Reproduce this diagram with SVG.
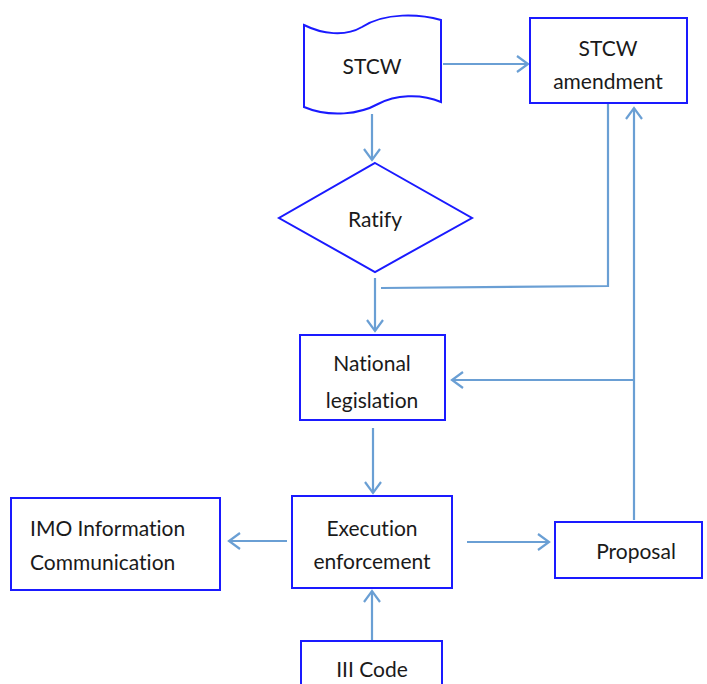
<svg xmlns="http://www.w3.org/2000/svg" width="707" height="684" viewBox="0 0 707 684">
<style>
.box{fill:#fff;stroke:#1a1aff;stroke-width:2}
.c{fill:none;stroke:#6a9fd4;stroke-width:2.2}
text{font-family:Lato,"Liberation Sans",sans-serif;font-size:21px;fill:#1a1a1a;text-anchor:middle;dominant-baseline:central;font-variant-ligatures:none}
</style>
<defs>
<marker id="a" markerUnits="userSpaceOnUse" markerWidth="14" markerHeight="20" refX="12" refY="9" orient="auto">
<path d="M1,1 L12,9 L1,17" fill="none" stroke="#6a9fd4" stroke-width="2.2"/>
</marker>
</defs>
<rect width="707" height="684" fill="#fff"/>
<g id="connectors">
<path class="c" d="M443,64 H528" marker-end="url(#a)"/>
<path class="c" d="M372,114 V160" marker-end="url(#a)"/>
<path class="c" d="M375,278 V331" marker-end="url(#a)"/>
<path class="c" d="M608,104 V286 L381,288"/>
<path class="c" d="M634,520 V108" marker-end="url(#a)"/>
<path class="c" d="M634,380 H452" marker-end="url(#a)"/>
<path class="c" d="M373,428 V493" marker-end="url(#a)"/>
<path class="c" d="M287,541 H229" marker-end="url(#a)"/>
<path class="c" d="M467,542 H549" marker-end="url(#a)"/>
<path class="c" d="M372,641 V591" marker-end="url(#a)"/>
</g>
<g id="stcw">
<path class="box" d="M304,25 C322,34 345,37 362,27 C385,12 420,14 441,20 V102 C420,93 395,95 378,104 C360,114 330,118 304,107 Z"/>
<text x="372" y="65">STCW</text>
</g>
<g id="amendment">
<rect class="box" x="530" y="18" width="157" height="85"/>
<text x="608" y="47">STCW</text>
<text x="608" y="80">amendment</text>
</g>
<g id="ratify">
<path class="box" d="M375,163 L472,218 L375,272 L279,218 Z"/>
<text x="375" y="218">Ratify</text>
</g>
<g id="national">
<rect class="box" x="300" y="335" width="145" height="85"/>
<text x="372" y="362">National</text>
<text x="372" y="399">legislation</text>
</g>
<g id="execution">
<rect class="box" x="292" y="496" width="160" height="92"/>
<text x="372" y="527">Execution</text>
<text x="372" y="560">enforcement</text>
</g>
<g id="imo">
<rect class="box" x="11" y="498" width="209" height="92"/>
<text x="30" y="527" style="text-anchor:start">IMO Information</text>
<text x="30" y="561" style="text-anchor:start">Communication</text>
</g>
<g id="proposal">
<rect class="box" x="555" y="522" width="147" height="56"/>
<text x="636" y="550">Proposal</text>
</g>
<g id="iii">
<rect class="box" x="301" y="641" width="141" height="50"/>
<text x="372" y="668">III Code</text>
</g>
</svg>
